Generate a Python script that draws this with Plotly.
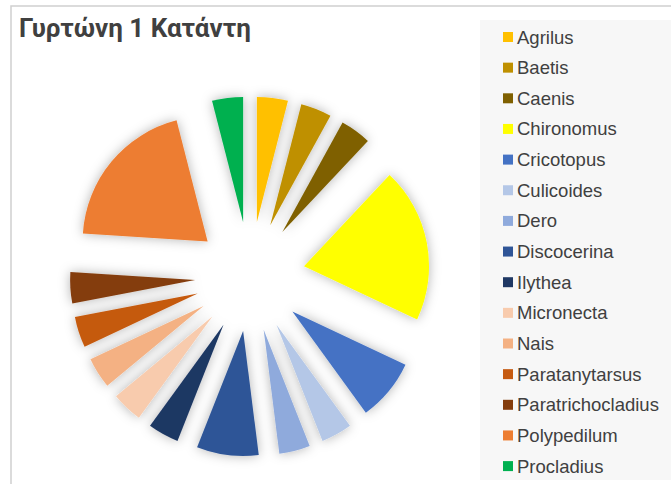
import plotly.graph_objects as go

# Taxa counts, Gyrtoni 1 downstream station
taxa = ["Agrilus", "Baetis", "Caenis", "Chironomus", "Cricotopus", "Culicoides",
        "Dero", "Discocerina", "Ilythea", "Micronecta", "Nais", "Paratanytarsus",
        "Paratrichocladius", "Polypedilum", "Procladius"]
counts = [1, 1, 1, 5, 2, 1, 1, 2, 1, 1, 1, 1, 1, 5, 1]
colors = ["#FFC000", "#BF9000", "#7F6000", "#FFFF00", "#4472C4", "#B4C7E7",
          "#8FAADC", "#2F5597", "#1F3864", "#F8CBAD", "#F4B183", "#C55A11",
          "#843C0C", "#ED7D31", "#00B050"]
title_text = "Γυρτώνη 1 Κατάντη"

W, H = 671, 484
FONT = "Liberation Sans, Arial, sans-serif"
TITLE_FONT = "Roboto, Liberation Sans, Arial, sans-serif"
TEXT_COLOR = "#404040"


def px(x):
    return x / W


def py(y):
    return 1 - y / H


# exploded pie: every slice pulled out by the same fraction of the radius
cx, cy, outer = 250, 276.5, 180
pull = 0.44

fig = go.Figure(go.Pie(
    labels=taxa,
    values=counts,
    marker=dict(colors=colors, line=dict(width=0)),
    sort=False,
    direction="clockwise",
    rotation=0,
    pull=[pull] * len(taxa),
    textinfo="none",
    hoverinfo="label+value+percent",
    showlegend=False,
    domain=dict(x=[px(cx - outer), px(cx + outer)],
                y=[py(cy + outer), py(cy - outer)]),
))

shapes = [
    # chart frame
    dict(type="rect", xref="paper", yref="paper",
         x0=px(11), x1=px(700), y0=py(6), y1=py(520),
         line=dict(color="#d0d0d0", width=1.5), fillcolor="rgba(0,0,0,0)", layer="below"),
    # legend panel
    dict(type="rect", xref="paper", yref="paper",
         x0=px(480), x1=px(700), y0=py(20), y1=py(480),
         line=dict(width=0), fillcolor="#f7f7f7", layer="below"),
]
annotations = []

row0, row_step = 37, 30.65
for i, (name, col) in enumerate(zip(taxa, colors)):
    yc = row0 + i * row_step
    shapes.append(dict(type="rect", xref="paper", yref="paper",
                       x0=px(503), x1=px(513), y0=py(yc + 5), y1=py(yc - 5),
                       line=dict(width=0), fillcolor=col))
    annotations.append(dict(xref="paper", yref="paper", x=px(515), y=py(yc),
                            xanchor="left", yanchor="middle", showarrow=False,
                            text=name, font=dict(family=FONT, size=18.5, color=TEXT_COLOR)))

fig.update_layout(
    width=W, height=H,
    margin=dict(l=0, r=0, t=0, b=0),
    paper_bgcolor="white",
    plot_bgcolor="white",
    title=dict(text="<b>" + title_text + "</b>", x=px(19), xanchor="left",
               y=py(28), yanchor="middle", xref="paper", yref="container",
               font=dict(family=TITLE_FONT, size=26, color=TEXT_COLOR)),
    shapes=shapes,
    annotations=annotations,
)

# soft outer shadow under the pie slices
shadow_js = """
var gd = document.getElementById('{plot_id}');
var ns = 'http://www.w3.org/2000/svg';
var svg = gd.querySelector('svg.main-svg');
var defs = svg.querySelector('defs');
if (!defs) { defs = document.createElementNS(ns, 'defs'); svg.insertBefore(defs, svg.firstChild); }
var f = document.createElementNS(ns, 'filter');
f.setAttribute('id', 'sliceShadow');
f.setAttribute('x', '-30%'); f.setAttribute('y', '-30%');
f.setAttribute('width', '160%'); f.setAttribute('height', '160%');
var ds = document.createElementNS(ns, 'feDropShadow');
ds.setAttribute('dx', '0'); ds.setAttribute('dy', '0');
ds.setAttribute('stdDeviation', '6');
ds.setAttribute('flood-color', '#000000');
ds.setAttribute('flood-opacity', '0.3');
f.appendChild(ds);
defs.appendChild(f);
gd.querySelectorAll('.pielayer .trace').forEach(function (t) {
    t.setAttribute('filter', 'url(#sliceShadow)');
});
"""

fig.write_html("out.html", post_script=shadow_js)
